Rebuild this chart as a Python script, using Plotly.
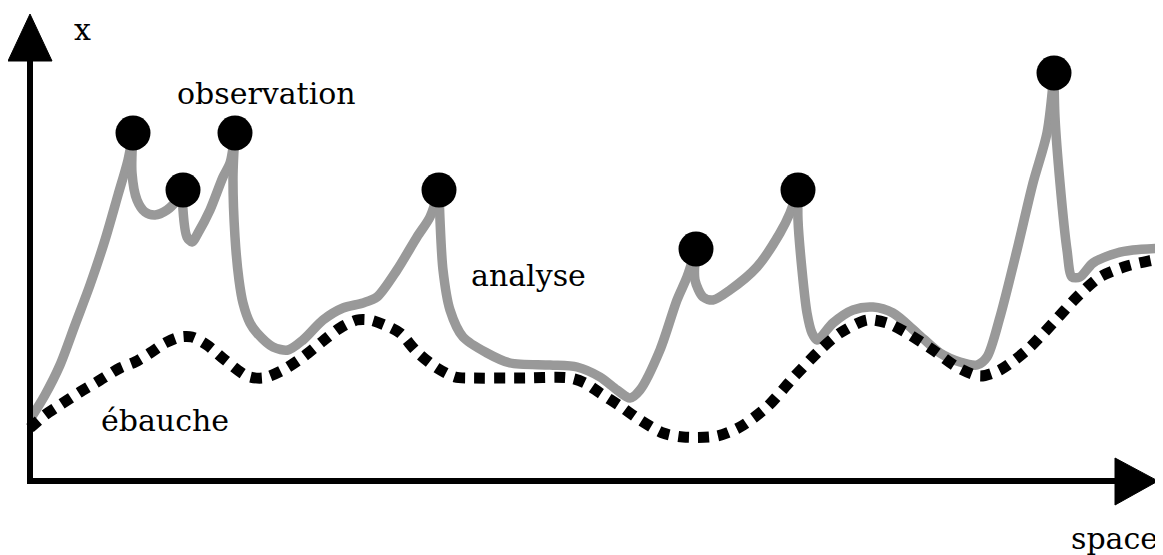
import plotly.graph_objects as go

# Observations (black dots)
obs_space = [103, 153, 205, 409, 666, 768, 1024]
obs_value = [348, 291, 348, 291, 232, 291, 408]

# Analyse (grey curve)
analyse_space = [1, 15, 30, 45, 60, 75, 88, 98, 103,
                 102, 107, 115, 125, 137, 147, 153,
                 153, 157, 162, 168, 180, 193, 200, 205,
                 203, 205, 209, 213, 220, 227, 243, 258, 273, 293, 313, 333, 347, 367, 387, 400, 409,
                 410, 413, 420, 433, 457, 480, 520, 547, 570, 587, 600, 610, 630, 647, 657, 666,
                 665, 673, 683, 700, 727, 750, 760, 768,
                 768, 772, 777, 782, 787, 803, 823, 843, 863, 887, 910, 930, 947, 957, 970, 987, 1003, 1017, 1024,
                 1025, 1030, 1037, 1042, 1050, 1063, 1087, 1103, 1133]
analyse_value = [63, 86, 116, 156, 196, 241, 286, 321, 348,
                 308, 281, 269, 266, 271, 281, 291,
                 271, 244, 239, 248, 271, 304, 318, 348,
                 304, 244, 201, 178, 158, 148, 134, 131, 141, 161, 173, 178, 184, 211, 244, 264, 291,
                 261, 211, 171, 144, 128, 118, 116, 114, 104, 91, 83, 91, 131, 181, 204, 232,
                 201, 184, 181, 191, 214, 248, 268, 291,
                 261, 211, 168, 148, 141, 158, 171, 174, 168, 148, 128, 119, 116, 124, 164, 231, 298, 348, 408,
                 364, 298, 231, 204, 204, 218, 228, 231, 233]

# Ebauche (dashed background curve)
ebauche_space = [0, 15, 30, 50, 67, 90, 105, 120, 135, 150, 162, 177, 195, 217, 233, 253, 273, 293,
                 310, 327, 340, 357, 370, 387, 407, 425, 440, 490, 540, 555, 570, 590, 610, 633, 653,
                 687, 710, 737, 763, 790, 810, 837, 857, 877, 903, 927, 950, 970, 997, 1023, 1047,
                 1070, 1097, 1123, 1133]
ebauche_value = [53, 66, 76, 89, 99, 113, 119, 128, 138, 144, 144, 136, 121, 105, 103, 111, 124, 140,
                 153, 161, 161, 155, 148, 129, 113, 104, 103, 103, 103, 98, 88, 75, 61, 48, 44,
                 45, 54, 74, 103, 131, 148, 161, 158, 148, 131, 114, 105, 111, 131, 158, 184,
                 204, 215, 221, 223]

labels = ["x", "observation", "analyse", "ébauche", "space"]
label_space = [52, 236, 498, 135, 1084]
label_value = [452, 388, 206, 61, -57]

fig = go.Figure()

# split the analyse curve at the observations so each piece is smooth with sharp cusps at the dots
obs_pairs = set(zip(obs_space, obs_value))
breaks = [0] + [i for i, p in enumerate(zip(analyse_space, analyse_value)) if p in obs_pairs] + [len(analyse_space) - 1]
for a, b in zip(breaks[:-1], breaks[1:]):
    if b <= a:
        continue
    fig.add_trace(go.Scatter(x=analyse_space[a:b + 1], y=analyse_value[a:b + 1], mode="lines",
                             line=dict(color="#999999", width=9.5, shape="spline", smoothing=0.8),
                             hoverinfo="skip"))

fig.add_trace(go.Scatter(x=ebauche_space, y=ebauche_value, mode="lines",
                         line=dict(color="black", width=11, dash="11px,9px", shape="spline", smoothing=0.8),
                         hoverinfo="skip"))
fig.add_trace(go.Scatter(x=obs_space, y=obs_value, mode="markers",
                         marker=dict(color="black", size=35, line=dict(width=0)), hoverinfo="skip"))

# axes with arrows
fig.add_shape(type="path", path="M 0,425 L 0,0 L 1090,0", xref="x", yref="y",
              line=dict(color="black", width=6), layer="above")
fig.add_shape(type="path", path="M -22,420 L 0,467 L 22,420 Z", xref="x", yref="y",
              line=dict(color="black", width=1), fillcolor="black", layer="above")
fig.add_shape(type="path", path="M 1085,23 L 1128,0 L 1085,-24 Z", xref="x", yref="y",
              line=dict(color="black", width=1), fillcolor="black", layer="above")

for t, sx, vy in zip(labels, label_space, label_value):
    fig.add_annotation(x=sx, y=vy, text=t, showarrow=False, xref="x", yref="y",
                       xanchor="center", yanchor="middle",
                       font=dict(family="DejaVu Serif", size=30, color="black"))

# the page adds an 8px body margin, so the figure is 8px smaller and ranges are shifted
fig.update_layout(
    width=1155, height=547,
    margin=dict(l=0, r=0, t=0, b=0),
    paper_bgcolor="white", plot_bgcolor="white",
    showlegend=False,
    xaxis=dict(range=[-22, 1133], visible=False, fixedrange=True),
    yaxis=dict(range=[-74, 473], visible=False, fixedrange=True),
)
fig.write_html("out.html")
